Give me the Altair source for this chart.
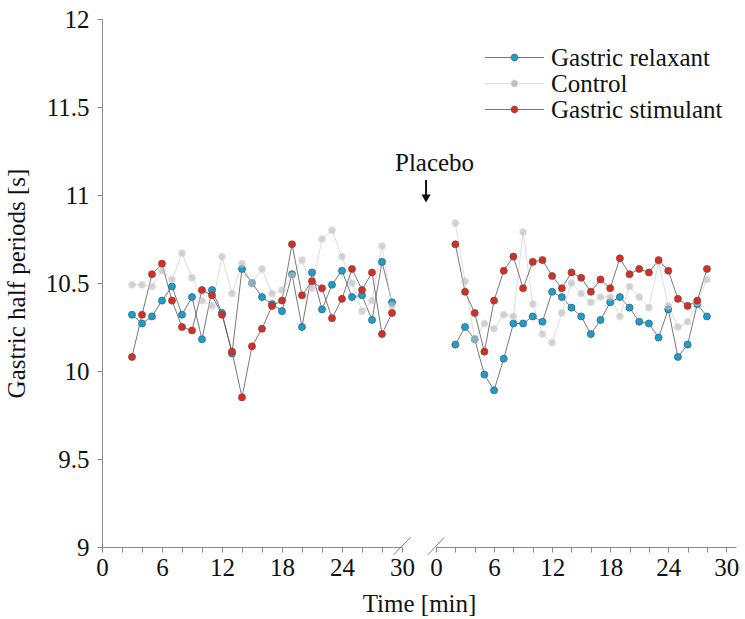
import altair as alt
import pandas as pd

FONT = "Liberation Serif"
AXIS_LABEL_FONT = "serif"
LEGEND_LABEL_FONT = "Times New Roman, Liberation Serif, serif"

SERIES = ["Gastric relaxant", "Control", "Gastric stimulant"]
FILL_COLORS = ["#14a0d2", "#bdbdbd", "#dd2c1d"]
LINE_COLORS = ["#555555", "#d4d4d4", "#555555"]

# Before placebo (left panel)
pre_time = list(range(3, 30))
pre_relaxant = [10.32, 10.27, 10.31, 10.40, 10.48, 10.32, 10.42, 10.18, 10.46, 10.33,
                10.10, 10.58, 10.50, 10.42, 10.38, 10.34, 10.55, 10.25, 10.56, 10.35,
                10.49, 10.57, 10.42, 10.43, 10.29, 10.62, 10.39]
pre_control = [10.49, 10.49, 10.48, 10.57, 10.52, 10.67, 10.53, 10.40, 10.37, 10.65,
               10.44, 10.61, 10.50, 10.58, 10.44, 10.46, 10.54, 10.63, 10.47, 10.75,
               10.80, 10.65, 10.50, 10.34, 10.40, 10.71, 10.37]
pre_stimulant = [10.08, 10.32, 10.55, 10.61, 10.40, 10.25, 10.23, 10.46, 10.43, 10.32,
                 10.11, 9.85, 10.14, 10.24, 10.37, 10.40, 10.72, 10.43, 10.51, 10.47,
                 10.30, 10.41, 10.58, 10.46, 10.56, 10.21, 10.33]

# After placebo (right panel)
post_time = list(range(2, 29))
post_relaxant = [10.15, 10.25, 10.18, 9.98, 9.89, 10.07, 10.27, 10.27, 10.31, 10.28,
                 10.45, 10.42, 10.36, 10.31, 10.21, 10.29, 10.39, 10.42, 10.36, 10.28,
                 10.27, 10.19, 10.35, 10.08, 10.15, 10.38, 10.31]
post_control = [10.84, 10.51, 10.18, 10.27, 10.24, 10.32, 10.31, 10.79, 10.38, 10.21,
                10.16, 10.33, 10.50, 10.44, 10.39, 10.42, 10.42, 10.31, 10.48, 10.42,
                10.36, 10.62, 10.37, 10.25, 10.28, 10.39, 10.52]
post_stimulant = [10.72, 10.45, 10.33, 10.11, 10.40, 10.57, 10.65, 10.47, 10.62, 10.63,
                  10.54, 10.47, 10.56, 10.53, 10.45, 10.52, 10.47, 10.64, 10.55, 10.58,
                  10.56, 10.63, 10.57, 10.41, 10.37, 10.40, 10.58]

Y_TICKS = [9, 9.5, 10, 10.5, 11, 11.5, 12]
X_TICKS = list(range(0, 31, 2))

annot_label = ["Placebo"]


def frame(times, rel, ctl, stim):
    rows = []
    for name, vals in zip(SERIES, [rel, ctl, stim]):
        for t, v in zip(times, vals):
            rows.append({"time": t, "value": v, "series": name})
    return pd.DataFrame(rows)


pre_df = frame(pre_time, pre_relaxant, pre_control, pre_stimulant)
post_df = frame(post_time, post_relaxant, post_control, post_stimulant)

LEGEND_PATH = ("M-7.4,0L-0.85,0M0.85,0L7.4,0"
               "M-0.85,0A0.85,0.85,0,1,1,0.85,0A0.85,0.85,0,1,1,-0.85,0Z")

legend = alt.Legend(title=None, orient="none", legendX=400, legendY=26,
                    symbolType=LEGEND_PATH, symbolSize=64, symbolStrokeWidth=0.8,
                    symbolOpacity=1, labelFont=LEGEND_LABEL_FONT, labelFontSize=25,
                    labelColor="#111111", labelOffset=24, rowPadding=0,
                    padding=0, labelLimit=400)

fill_enc = alt.Fill("series:N", scale=alt.Scale(domain=SERIES, range=FILL_COLORS),
                    legend=legend)
stroke_enc = alt.Stroke("series:N", scale=alt.Scale(domain=SERIES, range=LINE_COLORS),
                        legend=legend)

y_axis = alt.Axis(values=Y_TICKS, format="~g", labelFont=AXIS_LABEL_FONT,
                  labelFontSize=25,
                  labelColor="#111111", tickSize=5, tickColor="#888888",
                  domainColor="#888888", labelPadding=8, grid=False,
                  title="Gastric half periods [s]", titleFont=FONT, titleFontSize=25,
                  titleFontWeight="normal", titleColor="#111111", titleAngle=270,
                  titleBaseline="alphabetic", titleAlign="center",
                  titleX=-78, titleY=264)
y_scale = alt.Scale(domain=[9, 12], nice=False, zero=False)


def x_axis(with_title):
    kw = dict(values=X_TICKS, labelExpr="datum.value % 6 === 0 ? datum.label : ''",
              labelFont=AXIS_LABEL_FONT, labelFontSize=25,
              labelColor="#111111", tickSize=5,
              tickColor="#888888", domainColor="#888888", labelPadding=3,
              grid=False, labelFlush=False, labelOverlap=False)
    if with_title:
        kw.update(title="Time [min]", titleFont=FONT, titleFontSize=25,
                  titleFontWeight="normal", titleColor="#111111",
                  titleX=317, titleY=64, titleBaseline="alphabetic",
                  titleAlign="center")
    else:
        kw.update(title=None)
    return alt.Axis(**kw)


def panel(df, x_domain, with_y, with_title, break_at, extra=None):
    xs = alt.Scale(domain=x_domain, nice=False, zero=False)
    xax = x_axis(with_title)
    yax = y_axis if with_y else None
    X = alt.X("time:Q", scale=xs, axis=xax)
    Y = alt.Y("value:Q", scale=y_scale, axis=yax)

    lines = alt.Chart(df).mark_line(strokeWidth=0.8).encode(
        x=X, y=Y, stroke=stroke_enc, detail="series:N")
    points = alt.Chart(df).mark_point(filled=True, size=50, strokeWidth=0.7,
                                      shape="circle").encode(
        x=X, y=Y, fill=fill_enc, stroke=stroke_enc,
        opacity=alt.condition(alt.datum.series == "Control",
                              alt.value(0.65), alt.value(1)))
    brk = pd.DataFrame({"time": [break_at - 0.85], "time2": [break_at + 0.85],
                        "value": [8.955], "value2": [9.055]})
    breaks = alt.Chart(brk).mark_rule(clip=False, color="#666666",
                                      strokeWidth=0.8).encode(
        x=X, x2="time2:Q", y=Y, y2="value2:Q")
    layers = [lines, points, breaks]
    if extra:
        layers += extra(X, Y)
    return alt.layer(*layers).properties(width=300, height=528)


def placebo(X, Y):
    txt = pd.DataFrame({"time": [-0.15], "value": [11.135], "label": annot_label})
    arrow = pd.DataFrame({"time": [-1.03], "value": [11.085], "value2": [11.0]})
    head = pd.DataFrame({"time": [-1.03], "value": [10.98]})
    t = alt.Chart(txt).mark_text(font=FONT, fontSize=25, color="#111111",
                                 baseline="alphabetic", align="center").encode(
        x=X, y=Y, text="label:N")
    r = alt.Chart(arrow).mark_rule(color="#111111", strokeWidth=2).encode(
        x=X, y=Y, y2="value2:Q")
    h = alt.Chart(head).mark_point(shape="triangle-down", filled=True, size=85,
                                   color="#111111", opacity=1).encode(x=X, y=Y)
    return [r, h, t]


left = panel(pre_df, [0, 30], True, True, 30)
right = panel(post_df, [0, 31], False, False, 0, extra=placebo)

chart = alt.hconcat(left, right, spacing=34, bounds="flush").resolve_scale(
    x="independent", y="independent", fill="shared", stroke="shared"
).properties(
    padding={"left": 4, "top": 7, "right": 5, "bottom": 5}
).configure(
    background="white", font=FONT
).configure_view(
    stroke="transparent", strokeWidth=0
)

chart.save("out.html", embed_options={"renderer": "svg", "actions": False})
